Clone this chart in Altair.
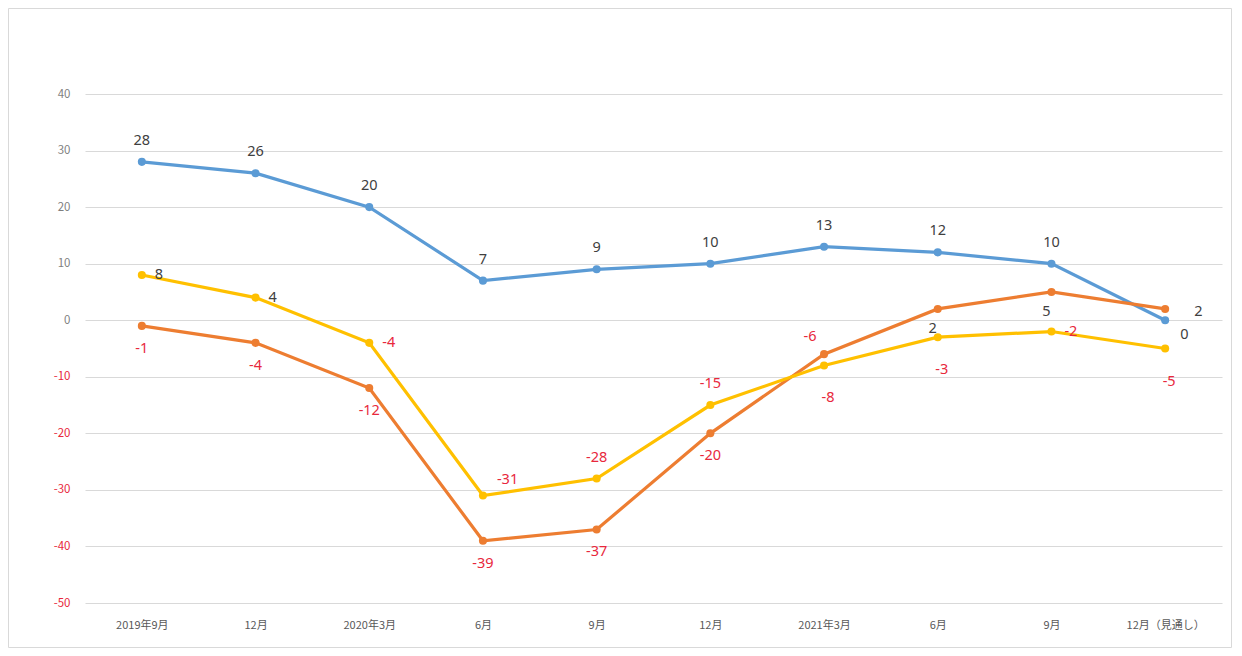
import altair as alt
import pandas as pd

categories = ["2019年9月", "12月", "2020年3月", "6月", "9月", "12月", "2021年3月", "6月", "9月", "12月（見通し）"]
series_names = ["系列1", "系列2", "系列3"]
blue_values = [28, 26, 20, 7, 9, 10, 13, 12, 10, 0]
orange_values = [-1, -4, -12, -39, -37, -20, -6, 2, 5, 2]
yellow_values = [8, 4, -4, -31, -28, -15, -8, -3, -2, -5]

# label placement names per point
blue_pos = ["above"] * 9 + ["right_below"]
orange_pos = ["below", "below", "below", "below", "below", "below", "above_left", "below_near", "below_near", "right_far"]
yellow_pos = ["right", "right", "right", "right_above", "above", "above", "below_far", "below_far", "right", "below_far"]

colors = ["#5B9BD5", "#ED7D31", "#FFC000"]

rows = []
for name, vals, poss in zip(series_names, [blue_values, orange_values, yellow_values], [blue_pos, orange_pos, yellow_pos]):
    for i, (v, p) in enumerate(zip(vals, poss)):
        rows.append({"idx": i, "series": name, "value": v, "pos": p})
df = pd.DataFrame(rows)

label_expr = "[" + ",".join("'" + c + "'" for c in categories) + "][datum.value]"

FONT = "Noto Sans CJK JP"

x_enc = alt.X("idx:O", title=None, sort=list(range(10)),
              scale=alt.Scale(paddingInner=0, paddingOuter=0.5),
              axis=alt.Axis(labelExpr=label_expr, labelAngle=0, domain=False, ticks=False, grid=False,
                            labelPadding=16, labelFont=FONT, labelFontSize=11, labelColor="#595959"))
y_enc = alt.Y("value:Q", title=None,
              scale=alt.Scale(domain=[-50, 40], nice=False),
              axis=alt.Axis(values=list(range(-50, 41, 10)), domain=False, ticks=False,
                            labelExpr="'' + datum.value",
                            labelPadding=15, labelFont=FONT, labelFontSize=11.5,
                            labelColor=alt.condition("datum.value < 0", alt.value("#E8283C"), alt.value("#7f7f7f")),
                            gridColor="#d9d9d9", gridWidth=1))
color_enc = alt.Color("series:N", scale=alt.Scale(domain=series_names, range=colors), legend=None)

base = alt.Chart(df).transform_calculate(label="'' + datum.value")

lines = base.mark_line(strokeWidth=3.2).encode(x=x_enc, y=y_enc, color=color_enc, detail="series:N")
points = base.mark_circle(size=65, opacity=1).encode(x="idx:O", y="value:Q", color=color_enc)

placements = {
    "above": (0, -21, "center"),
    "below": (0, 23, "center"),
    "right": (13, 0, "left"),
    "right_below": (15, 15, "left"),
    "right_far": (29, 3, "left"),
    "right_above": (14, -16, "left"),
    "above_left": (-14, -17, "center"),
    "below_near": (-5, 20, "center"),
    "below_far": (4, 33, "center"),
}

text_layers = []
for name, (dx, dy, align) in placements.items():
    text_layers.append(
        base.transform_filter(alt.datum.pos == name).mark_text(
            dx=dx, dy=dy, align=align, baseline="middle", font="Noto Sans", fontSize=14.5
        ).encode(
            x="idx:O", y="value:Q", text="label:N",
            color=alt.condition("datum.value < 0", alt.value("#E8283C"), alt.value("#404040")),
        )
    )

border = alt.Chart(pd.DataFrame({"a": [0]})).mark_rect(fill=None, stroke="#d9d9d9", strokeWidth=1).encode(
    x=alt.value(-76.5), x2=alt.value(1146.5), y=alt.value(-85.5), y2=alt.value(553.5)
)

chart = alt.layer(border, lines, points, *text_layers).properties(
    width=1137, height=509,
    autosize=alt.AutoSizeParams(type="none"),
    padding={"left": 77, "top": 86, "right": 10, "bottom": 45},
).configure(background="white").configure_view(stroke=None)

chart.save("out.html", embed_options={"renderer": "svg", "actions": False})
